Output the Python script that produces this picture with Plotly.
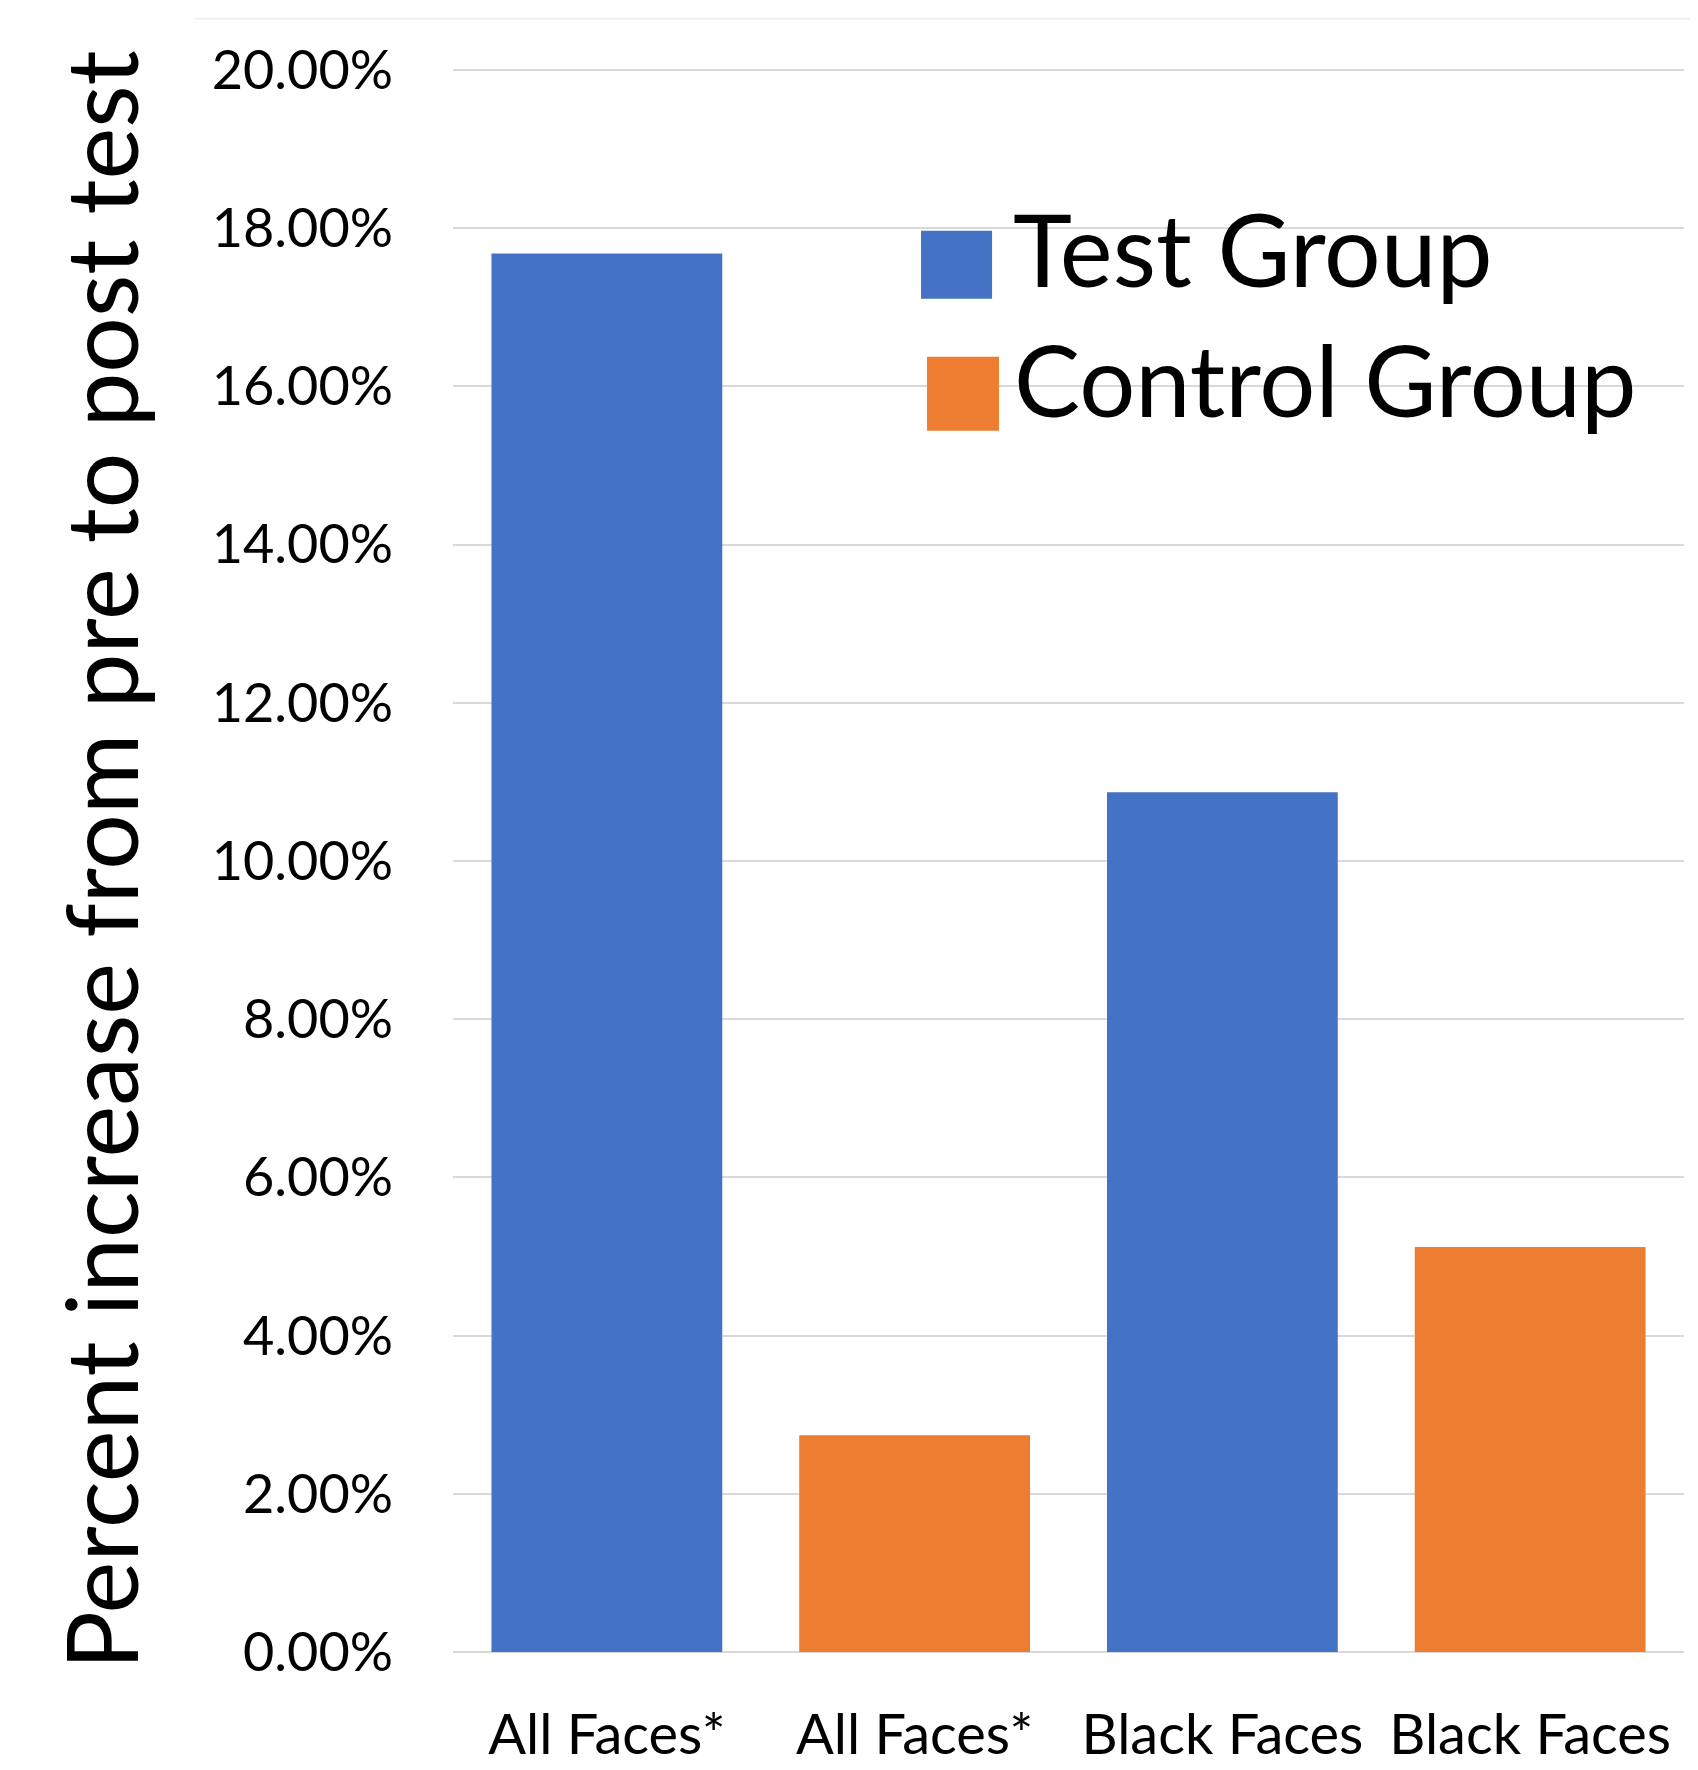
import plotly.graph_objects as go

# ---- data ----
categories = ["All Faces*", "All Faces*", "Black Faces", "Black Faces"]
series_names = ["Test Group", "Control Group"]
test_positions = [0, 2]
control_positions = [1, 3]
test_values = [0.1768, 0.1087]
control_values = [0.0274, 0.0512]
y_ticks = [0.00, 0.02, 0.04, 0.06, 0.08, 0.10, 0.12, 0.14, 0.16, 0.18, 0.20]
y_title = "Percent increase from pre to post test"

BLUE = "#4472C4"
ORANGE = "#ED7D31"
FONT = "Lato"

fig = go.Figure()
fig.add_trace(go.Bar(x=test_positions, y=test_values, name=series_names[0],
                     marker=dict(color=BLUE, line=dict(width=0)), width=0.75,
                     showlegend=False))
fig.add_trace(go.Bar(x=control_positions, y=control_values, name=series_names[1],
                     marker=dict(color=ORANGE, line=dict(width=0)), width=0.75,
                     showlegend=False))

# legend drawn as shapes + text so swatches can be large
shapes = [
    # white area behind legend that interrupts gridlines
    dict(type="rect", xref="paper", yref="paper", x0=0.3347, x1=1.0, y0=0.664, y1=0.944,
         fillcolor="white", line=dict(width=0), layer="between"),
    dict(type="rect", xref="paper", yref="paper", x0=0.3802, x1=0.4379, y0=0.8544, y1=0.8973,
         fillcolor=BLUE, line=dict(width=0), layer="above"),
    dict(type="rect", xref="paper", yref="paper", x0=0.3851, x1=0.4435, y0=0.7710, y1=0.8177,
         fillcolor=ORANGE, line=dict(width=0), layer="above"),
    # faint chart-area border at top
    dict(type="line", xref="paper", yref="paper", x0=-0.210, x1=1.02, y0=1.0311, y1=1.0311,
         line=dict(color="#f0f0f0", width=2), layer="above"),
]
annotations = [
    dict(text=series_names[0], xref="paper", yref="paper", x=0.4533, y=0.8861,
         xanchor="left", yanchor="middle", showarrow=False,
         font=dict(family=FONT, size=100, color="black")),
    dict(text=series_names[1], xref="paper", yref="paper", x=0.4541, y=0.8037,
         xanchor="left", yanchor="middle", showarrow=False,
         font=dict(family=FONT, size=99, color="black")),
]

fig.update_layout(
    width=1698, height=1770,
    margin=dict(l=445, r=22, t=60, b=103),
    paper_bgcolor="white", plot_bgcolor="white",
    barmode="overlay",
    showlegend=False,
    shapes=shapes,
    annotations=annotations,
    font=dict(family=FONT, color="black"),
)
fig.update_xaxes(
    range=[-0.5, 3.5],
    tickmode="array", tickvals=list(range(len(categories))), ticktext=categories,
    showgrid=False, zeroline=False, showline=False, ticks="",
    tickfont=dict(family=FONT, size=56, color="black"),
    ticklabelstandoff=45,
)
fig.update_yaxes(
    range=[0, 0.20025],
    tickmode="array", tickvals=y_ticks, tickformat=".2%",
    showgrid=True, gridcolor="#d9d9d9", gridwidth=2,
    zeroline=True, zerolinecolor="#d9d9d9", zerolinewidth=2,
    showline=False, ticks="",
    tickfont=dict(family=FONT, size=54, color="black"),
    ticklabelstandoff=59,
    title=dict(text=y_title, font=dict(family=FONT, size=98, color="black"), standoff=40),
)

fig.write_html("out.html")
